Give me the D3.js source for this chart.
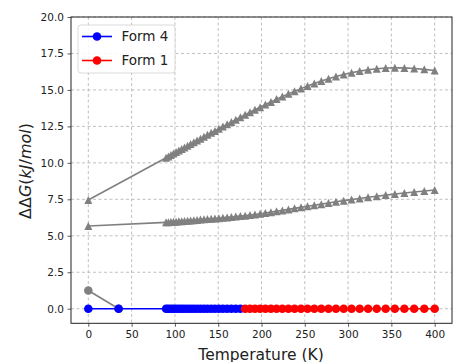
<!DOCTYPE html>
<html><head><meta charset="utf-8">
<script src="https://cdn.jsdelivr.net/npm/d3@7"></script>
<style>body{margin:0;background:#fff;} svg{display:block;font-family:"DejaVu Sans",sans-serif;}</style>
</head><body><svg id="c" width="456" height="362"></svg>
<script>
// ---- data ----
const xTicks = [0, 50, 100, 150, 200, 250, 300, 350, 400];
const yTicks = [0, 2.5, 5, 7.5, 10, 12.5, 15, 17.5, 20];
const yTickLabels = ["0.0","2.5","5.0","7.5","10.0","12.5","15.0","17.5","20.0"];

const tempsForm4 = [0, 35, 89.8, 92.5, 95.4, 98.4, 101.4, 104.6, 107.8, 111.1, 114.6, 118.1, 121.8, 125.6, 129.5, 133.5, 137.6, 141.9, 146.2, 150.8, 155.4, 160.3, 165.2, 170.3, 175.6];
const valuesForm4 = [0, 0, 0, 0, 0, 0, 0, 0, 0, 0, 0, 0, 0, 0, 0, 0, 0, 0, 0, 0, 0, 0, 0, 0, 0];

const tempsForm1 = [181.1, 186.7, 192.4, 198.4, 204.5, 210.9, 217.4, 224.1, 231.1, 238.2, 245.6, 253.2, 261.0, 269.1, 277.4, 286.0, 294.9, 304.0, 313.4, 323.1, 333.1, 343.4, 354.0, 365.0, 376.3, 388.0, 400];
const valuesForm1 = [0, 0, 0, 0, 0, 0, 0, 0, 0, 0, 0, 0, 0, 0, 0, 0, 0, 0, 0, 0, 0, 0, 0, 0, 0, 0, 0];

const tempsGrayCircle = [0, 35];
const valuesGrayCircle = [1.25, 0];

const tempsTri = [0, 89.8, 92.5, 95.4, 98.4, 101.4, 104.6, 107.8, 111.1, 114.6, 118.1, 121.8, 125.6, 129.5, 133.5, 137.6, 141.9, 146.2, 150.8, 155.4, 160.3, 165.2, 170.3, 175.6,
  181.1, 186.7, 192.4, 198.4, 204.5, 210.9, 217.4, 224.1, 231.1, 238.2, 245.6, 253.2, 261.0, 269.1, 277.4, 286.0, 294.9, 304.0, 313.4, 323.1, 333.1, 343.4, 354.0, 365.0, 376.3, 388.0, 400];
const valuesTriUpper = [7.45, 10.35, 10.44, 10.54, 10.64, 10.74, 10.85, 10.95, 11.06, 11.18, 11.29, 11.41, 11.54, 11.66, 11.79, 11.92, 12.06, 12.19, 12.34, 12.49, 12.64, 12.80, 12.96, 13.13,
  13.30, 13.47, 13.64, 13.82, 14.00, 14.18, 14.37, 14.55, 14.73, 14.91, 15.09, 15.27, 15.44, 15.61, 15.77, 15.92, 16.06, 16.18, 16.29, 16.38, 16.45, 16.50, 16.52, 16.51, 16.47, 16.41, 16.33];
const valuesTriLower = [5.67, 5.92, 5.93, 5.95, 5.96, 5.97, 5.99, 6.00, 6.02, 6.03, 6.05, 6.07, 6.09, 6.11, 6.13, 6.15, 6.17, 6.19, 6.21, 6.23, 6.26, 6.29, 6.32, 6.35,
  6.38, 6.42, 6.46, 6.51, 6.56, 6.62, 6.68, 6.74, 6.81, 6.88, 6.95, 7.02, 7.09, 7.17, 7.25, 7.33, 7.41, 7.48, 7.56, 7.64, 7.71, 7.79, 7.86, 7.93, 8.00, 8.07, 8.14];

const legendLabels = ["Form 4", "Form 1"];
const legendColors = ["#0000ff", "#ff0000"];

// ---- chart ----
const svg = d3.select("#c");
const L = 71, R = 452, T = 17, B = 323.3;
const x = d3.scaleLinear().domain([-20, 420]).range([L, R]);
const y = d3.scaleLinear().domain([-1, 20]).range([B, T]);

// grid
const grid = svg.append("g");
grid.selectAll("line.gx").data(xTicks).join("line")
  .attr("x1", d => x(d)).attr("x2", d => x(d)).attr("y1", T).attr("y2", B)
  .attr("stroke", "#b0b0b0").attr("stroke-width", 0.8).attr("stroke-dasharray", "3,2.5");
grid.selectAll("line.gy").data(yTicks).join("line")
  .attr("y1", d => y(d)).attr("y2", d => y(d)).attr("x1", L).attr("x2", R)
  .attr("stroke", "#b0b0b0").attr("stroke-width", 0.8).attr("stroke-dasharray", "3,2.5");

// axes
const xAxis = d3.axisBottom(x).tickValues(xTicks).tickSize(3.5).tickPadding(3.5).tickFormat(d3.format("d"));
const yAxis = d3.axisLeft(y).tickValues(yTicks).tickSize(3.5).tickPadding(3.5).tickFormat((d, i) => yTickLabels[i]);
const gx = svg.append("g").attr("transform", `translate(0,${B})`).call(xAxis);
const gy = svg.append("g").attr("transform", `translate(${L},0)`).call(yAxis);
[gx, gy].forEach(g => {
  g.select(".domain").remove();
  g.selectAll(".tick line").attr("stroke", "#333").attr("stroke-width", 0.8);
  g.selectAll(".tick text").attr("fill", "#222").style("font-size", "10.5px").style("font-family", "DejaVu Sans");
});

const plot = svg.append("g");
const line = d3.line().x(d => x(d[0])).y(d => y(d[1]));
const zip = (a, b) => a.map((v, i) => [v, b[i]]);

function triPath(cx, cy, r) {
  const p = d3.path();
  p.moveTo(cx, cy - r); p.lineTo(cx - r, cy + r); p.lineTo(cx + r, cy + r); p.closePath();
  return p.toString();
}

function drawCircles(pts, color) {
  plot.append("path").datum(pts).attr("d", line).attr("fill", "none").attr("stroke", color).attr("stroke-width", 1.6);
  plot.append("g").selectAll("circle").data(pts).join("circle")
    .attr("cx", d => x(d[0])).attr("cy", d => y(d[1])).attr("r", 4.3).attr("fill", color);
}
function drawTris(pts, color) {
  plot.append("path").datum(pts).attr("d", line).attr("fill", "none").attr("stroke", color).attr("stroke-width", 1.6);
  plot.append("g").selectAll("path").data(pts).join("path")
    .attr("d", d => triPath(x(d[0]), y(d[1]), 4.0)).attr("fill", color);
}

drawTris(zip(tempsTri, valuesTriUpper), "#808080");
drawTris(zip(tempsTri, valuesTriLower), "#808080");
drawCircles(zip(tempsGrayCircle, valuesGrayCircle), "#808080");
drawCircles(zip(tempsForm4, valuesForm4), legendColors[0]);
drawCircles(zip(tempsForm1, valuesForm1), legendColors[1]);

// frame
svg.append("rect").attr("x", L).attr("y", T).attr("width", R - L).attr("height", B - T)
  .attr("fill", "none").attr("stroke", "#222").attr("stroke-width", 1);

// legend
const lg = svg.append("g");
lg.append("rect").attr("x", 78).attr("y", 25).attr("width", 97).attr("height", 48).attr("rx", 3)
  .attr("fill", "#fff").attr("fill-opacity", 0.85).attr("stroke", "#d0d0d0").attr("stroke-width", 0.8);
legendLabels.forEach((lab, i) => {
  const yy = 36.5 + i * 24;
  lg.append("line").attr("x1", 82).attr("x2", 112).attr("y1", yy).attr("y2", yy).attr("stroke", legendColors[i]).attr("stroke-width", 1.6);
  lg.append("circle").attr("cx", 97).attr("cy", yy).attr("r", 4.3).attr("fill", legendColors[i]);
  lg.append("text").attr("x", 121.5).attr("y", yy + 4.8).text(lab).attr("fill", "#222").style("font-size", "13.5px");
});

// labels
svg.append("text").attr("x", 261).attr("y", 359.5).attr("text-anchor", "middle")
  .style("font-size", "15.5px").attr("fill", "#222").text("Temperature (K)");
const yl = svg.append("text").attr("transform", "translate(31,171) rotate(-90)").attr("text-anchor", "middle")
  .style("font-size", "16px").attr("fill", "#222");
[["ΔΔ", "normal"], ["G", "italic"], ["(", "normal"], ["kJ", "italic"], ["/", "normal"], ["mol", "italic"], [")", "normal"]]
  .forEach(([t, s]) => yl.append("tspan").style("font-style", s).text(t));
</script></body></html>
